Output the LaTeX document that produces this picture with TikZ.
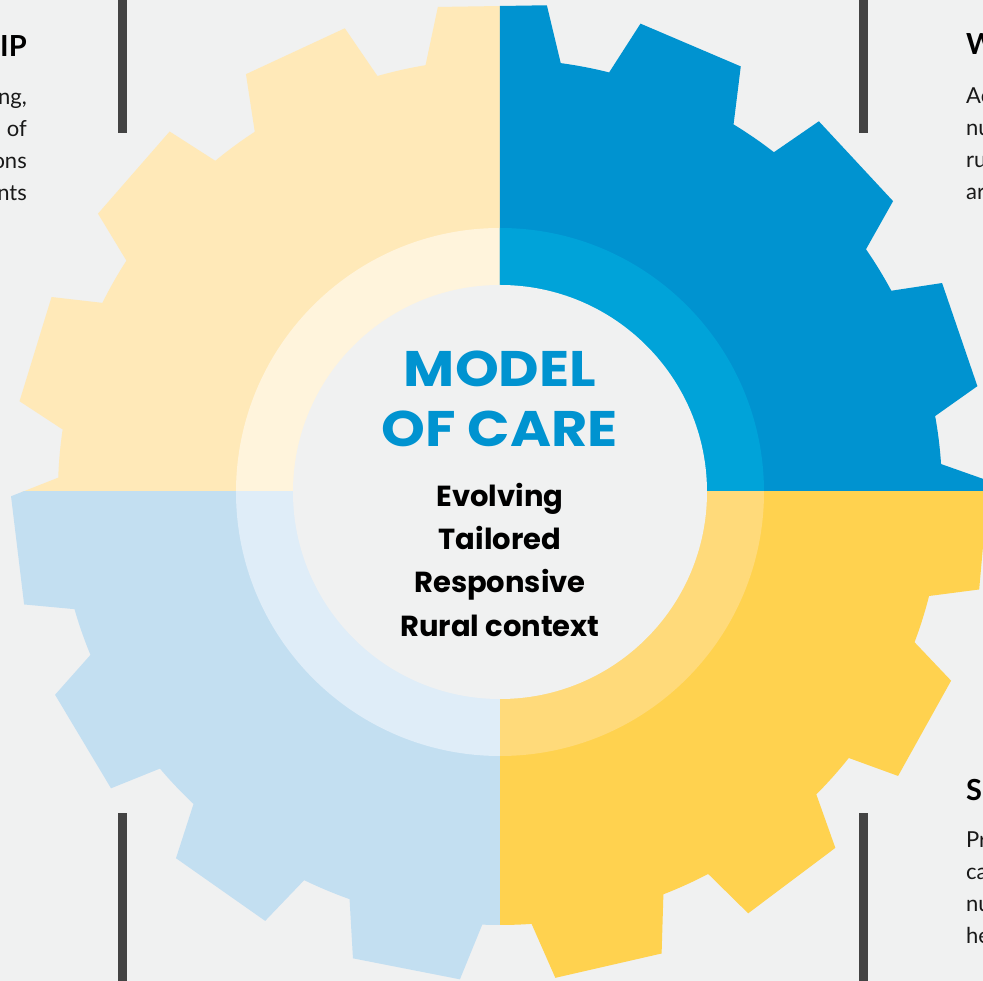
\documentclass[tikz,border=0pt]{standalone}
\usepackage{fontspec}
\setmainfont{Lato}
\newfontfamily\ctrfont{Poppins}
\newfontfamily\titfont{Poppins}[FakeStretch=1.115]
\definecolor{bg}{HTML}{F0F1F1}
\definecolor{gTL}{HTML}{FFE9B8}
\definecolor{rTL}{HTML}{FFF4DC}
\definecolor{gTR}{HTML}{0093D0}
\definecolor{rTR}{HTML}{00A3D9}
\definecolor{gBR}{HTML}{FFD24F}
\definecolor{rBR}{HTML}{FFDA7A}
\definecolor{gBL}{HTML}{C3DFF1}
\definecolor{rBL}{HTML}{DFEDF8}
\definecolor{barc}{HTML}{434343}
\definecolor{titc}{HTML}{0093D0}
\newcommand\mygear{({90.9+8.8}:442pt and 433pt)
  \foreach \k in {0,...,14}{
    -- ({90.9-24*\k+6.4}:489pt) -- ({90.9-24*\k-6.4}:489pt)
    -- ({90.9-24*\k-8.8}:442pt and 433pt)
    arc[start angle={90.9-24*\k-8.8}, end angle={90.9-24*\k-15.2}, x radius=442pt, y radius=433pt]
  } -- cycle}
\tikzset{
  title/.style={inner sep=0pt, anchor=base, text=titc, font=\titfont\bfseries\fontsize{50}{50}\selectfont},
  body/.style={inner sep=0pt, anchor=base, text=black, font=\ctrfont\bfseries\fontsize{29}{29}\selectfont},
  head/.style={inner sep=0pt, text=black, font=\bfseries\fontsize{29}{29}\selectfont},
  side/.style={inner sep=0pt, text=black!90, font=\fontsize{22}{22}\selectfont},
  bar/.style={fill=barc}
}
\begin{document}
\begin{tikzpicture}[x=1pt,y=1pt]
\useasboundingbox[fill=bg] (-500,-489) rectangle (483,492);
\begin{scope}
  \clip (0,0) rectangle (-520,520);
  \fill[gTL] \mygear;
  \fill[rTL] (0,0) circle (264pt);
\end{scope}
\begin{scope}
  \clip (0,0) rectangle (520,520);
  \fill[gTR] \mygear;
  \fill[rTR] (0,0) circle (264pt);
\end{scope}
\begin{scope}
  \clip (0,0) rectangle (520,-520);
  \fill[gBR] \mygear;
  \fill[rBR] (0,0) circle (264pt);
\end{scope}
\begin{scope}
  \clip (0,0) rectangle (-520,-520);
  \fill[gBL] \mygear;
  \fill[rBL] (0,0) circle (264pt);
\end{scope}
\fill[bg] (0,0) circle (207pt);
% bars
\fill[bar] (-382,492) rectangle (-373,359);
\fill[bar] (359,492) rectangle (368,359);
\fill[bar] (-382,-321) rectangle (-373,-489);
\fill[bar] (359,-321) rectangle (368,-489);
% centre text
\node[title] (t1) at (0,105) {MODEL};
\node[title] (t2) at (0,45) {OF CARE};
\node[body] (b1) at (0,-15) {Evolving};
\node[body] (b2) at (0,-58) {Tailored};
\node[body] (b3) at (0,-101) {Responsive};
\node[body] (b4) at (0,-145) {Rural context};
% left column
\node[head, anchor=base east] (hl) at (-473,435) {IP};
\node[side, anchor=base east] (l1) at (-473,387) {ng,};
\node[side, anchor=base east] (l2) at (-473,355) {of};
\node[side, anchor=base east] (l3) at (-473,323) {ons};
\node[side, anchor=base east] (l4) at (-473,291) {nts};
% right top column
\node[head, anchor=base west] (hr) at (466,437) {W};
\node[side, anchor=base west] (r1) at (466,388) {Ac};
\node[side, anchor=base west] (r2) at (466,356) {nu};
\node[side, anchor=base west] (r3) at (466,324) {ru};
\node[side, anchor=base west] (r4) at (466,292) {ar};
% right bottom column
\node[head, anchor=base west] (hs) at (466,-309) {S};
\node[side, anchor=base west] (s1) at (466,-356) {Pr};
\node[side, anchor=base west] (s2) at (466,-388) {ca};
\node[side, anchor=base west] (s3) at (466,-420) {nu};
\node[side, anchor=base west] (s4) at (466,-452) {he};
\end{tikzpicture}
\end{document}
